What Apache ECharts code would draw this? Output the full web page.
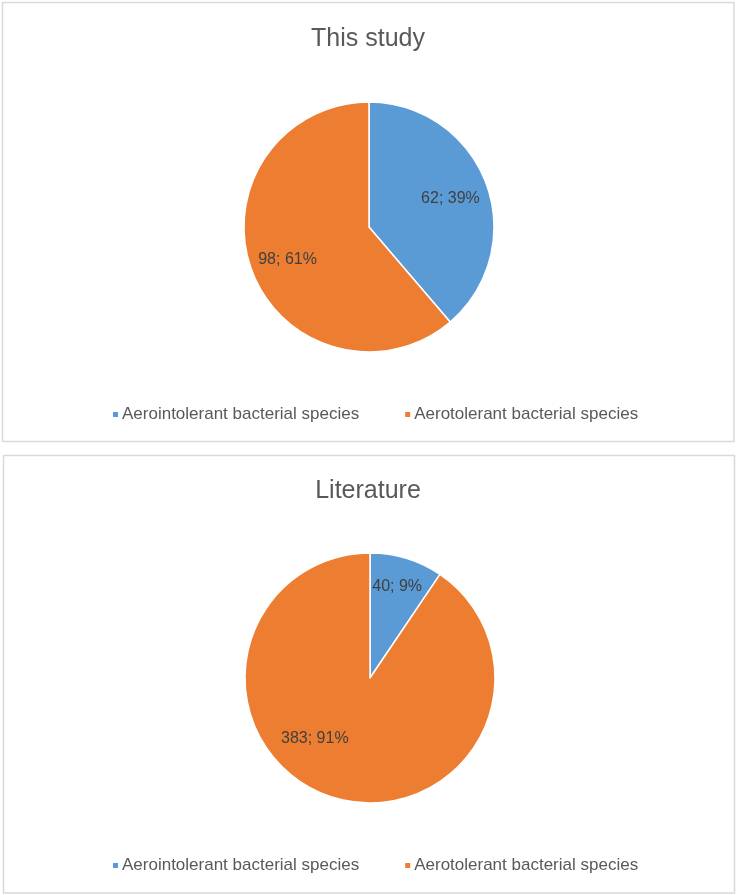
<!DOCTYPE html>
<html>
<head>
<meta charset="utf-8">
<script src="https://cdn.jsdelivr.net/npm/echarts@6/dist/echarts.min.js"></script>
<style>
  html, body { margin: 0; padding: 0; background: #fff; }
  #chart { width: 736px; height: 895px; }
</style>
</head>
<body>
<div id="chart"></div>
<script>
// Species counts by oxygen tolerance
const categories = ['Aerointolerant bacterial species', 'Aerotolerant bacterial species'];
const studyValues = [62, 98];
const literatureValues = [40, 383];
const panelTitles = ['This study', 'Literature'];
const colors = ['#5B9BD5', '#ED7D31'];

const FONT = '"Liberation Sans", "DejaVu Sans", sans-serif';
const TEXT = '#595959';

function pct(values, i) {
  const total = values.reduce((a, b) => a + b, 0);
  return Math.round(values[i] / total * 100);
}

// Nudges for labels (Excel-style placement further out from the centre)
const labelShift = [
  [[20, -6], [-20, 10]],
  [[8, -29], [-36, -2]]
];

function pieSeries(values, center, panel) {
  return {
    type: 'pie',
    radius: 125,
    center: center,
    startAngle: 90,
    clockwise: true,
    silent: true,
    itemStyle: { borderColor: '#fff', borderWidth: 1.5 },
    label: {
      show: true,
      position: 'inside',
      color: '#404040',
      fontSize: 16,
      fontFamily: FONT,
      formatter: p => p.value + '; ' + pct(values, p.dataIndex) + '%'
    },
    labelLine: { show: false },
    labelLayout: p => ({ dx: labelShift[panel][p.dataIndex][0], dy: labelShift[panel][p.dataIndex][1] }),
    data: categories.map((name, i) => ({ name: name, value: values[i], itemStyle: { color: colors[i] } }))
  };
}

function legend(top) {
  return {
    top: top,
    left: 106,
    data: categories,
    icon: 'rect',
    itemWidth: 7,
    itemHeight: 7,
    itemGap: 44,
    selectedMode: false,
    textStyle: { color: TEXT, fontSize: 17, fontFamily: FONT, padding: [0, 0, 0, -2] }
  };
}

const chart = echarts.init(document.getElementById('chart'), null, { renderer: 'canvas' });
chart.setOption({
  animation: false,
  backgroundColor: '#fff',
  color: colors,
  graphic: [
    { type: 'rect', shape: { x: 2.5, y: 2.5, width: 731.5, height: 439 }, style: { fill: 'none', stroke: '#d9d9d9', lineWidth: 1.5 } },
    { type: 'rect', shape: { x: 3.5, y: 455.5, width: 731, height: 437.5 }, style: { fill: 'none', stroke: '#d9d9d9', lineWidth: 1.5 } }
  ],
  title: [
    { text: panelTitles[0], left: 'center', top: 22, textStyle: { color: TEXT, fontSize: 25, fontWeight: 'normal', fontFamily: FONT } },
    { text: panelTitles[1], left: 'center', top: 474, textStyle: { color: TEXT, fontSize: 25, fontWeight: 'normal', fontFamily: FONT } }
  ],
  legend: [legend(401), legend(852)],
  series: [
    pieSeries(studyValues, [369, 227], 0),
    pieSeries(literatureValues, [370, 678], 1)
  ]
});
</script>
</body>
</html>
